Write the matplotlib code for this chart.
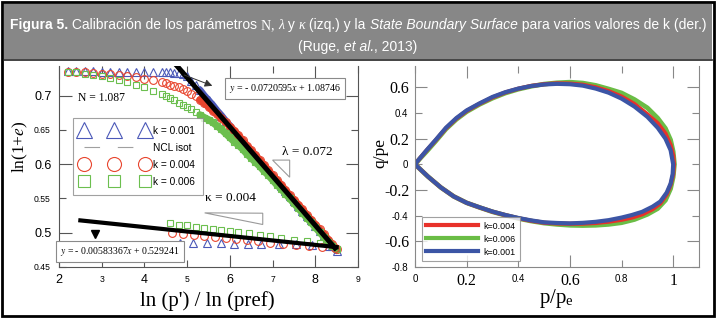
import numpy as np
import matplotlib
matplotlib.use('Agg')
import matplotlib.pyplot as plt
from matplotlib.lines import Line2D
from matplotlib.patches import Rectangle, Polygon
from matplotlib import font_manager

plt.rcParams['mathtext.fontset'] = 'stix'
SANS = 'Liberation Sans'
SERIF = 'Liberation Serif'

# %% data - left panel (compression curves)
x_load = [2.2, 2.4, 2.6, 2.8, 3.0, 3.2, 3.4, 3.6, 3.8, 4.0, 4.2, 4.4,
          4.5, 4.6, 4.7, 4.8, 4.9, 5.0, 5.1, 5.2, 5.3, 5.4, 5.5, 5.6, 5.7, 5.8, 5.9,
          6.0, 6.1, 6.2, 6.3, 6.4, 6.5, 6.6, 6.7, 6.8, 6.9, 7.0, 7.1, 7.2, 7.3, 7.4,
          7.5, 7.6, 7.7, 7.8, 7.9, 8.0, 8.1, 8.2, 8.3, 8.4, 8.5]
y_load_k001 = [0.736, 0.736, 0.736, 0.736, 0.735, 0.735, 0.735, 0.735, 0.735, 0.735, 0.734, 0.734,
               0.734, 0.734, 0.733, 0.733, 0.732, 0.729, 0.722, 0.715, 0.708, 0.700, 0.693, 0.686, 0.678, 0.671, 0.663,
               0.656, 0.648, 0.641, 0.634, 0.626, 0.619, 0.612, 0.604, 0.597, 0.590, 0.583, 0.575, 0.568, 0.561, 0.554,
               0.546, 0.539, 0.532, 0.525, 0.518, 0.510, 0.503, 0.496, 0.489, 0.481, 0.474]
y_load_k004 = [0.735, 0.735, 0.734, 0.733, 0.732, 0.731, 0.730, 0.729, 0.727, 0.725, 0.723, 0.720,
               0.718, 0.716, 0.714, 0.712, 0.710, 0.707, 0.703, 0.699, 0.694, 0.689, 0.684, 0.678, 0.673, 0.667, 0.661,
               0.655, 0.649, 0.642, 0.635, 0.627, 0.620, 0.613, 0.606, 0.599, 0.591, 0.584, 0.577, 0.570, 0.562, 0.555,
               0.548, 0.541, 0.534, 0.526, 0.519, 0.512, 0.505, 0.498, 0.490, 0.483, 0.476]
y_load_k006 = [0.735, 0.734, 0.732, 0.730, 0.728, 0.726, 0.723, 0.720, 0.716, 0.712, 0.707, 0.702,
               0.699, 0.696, 0.693, 0.690, 0.687, 0.684, 0.680, 0.676, 0.672, 0.668, 0.665, 0.661, 0.656, 0.651, 0.645,
               0.639, 0.633, 0.628, 0.622, 0.615, 0.609, 0.603, 0.597, 0.590, 0.584, 0.577, 0.570, 0.564, 0.557, 0.550,
               0.543, 0.536, 0.529, 0.522, 0.515, 0.508, 0.501, 0.494, 0.487, 0.481, 0.476]

x_unl_k001 = [4.83, 5.13, 5.46, 5.79, 6.09, 6.42, 6.74, 7.16, 7.56, 7.93, 8.33]
y_unl_k001 = [0.485, 0.485, 0.485, 0.485, 0.484, 0.484, 0.484, 0.483, 0.483, 0.482, 0.481]
x_unl_k004 = [4.65, 4.9, 5.15, 5.4, 5.65, 5.9, 6.15, 6.4, 6.65, 6.95, 7.25, 7.55, 7.85, 8.15, 8.45]
y_unl_k004 = [0.500, 0.4985, 0.497, 0.4955, 0.494, 0.4925, 0.491, 0.489, 0.4875, 0.4855, 0.4835,
              0.482, 0.480, 0.4785, 0.477]
x_unl_k006 = [4.6, 4.8, 5.0, 5.2, 5.4, 5.6, 5.8, 6.0, 6.2, 6.45, 6.7, 6.95, 7.2, 7.5, 7.8, 8.1, 8.4]
y_unl_k006 = [0.514, 0.512, 0.511, 0.509, 0.507, 0.506, 0.504, 0.502, 0.501, 0.499, 0.497, 0.495,
              0.492, 0.490, 0.488, 0.485, 0.481]

ncl_x = [4.65, 8.5]
ncl_y = [0.7515, 0.4749]
kap_x = [2.5, 8.5]
kap_y = [0.518, 0.479]

# %% data - right panel (state boundary surface)
p_k001 = [0, 0.02, 0.045, 0.08, 0.12, 0.16, 0.2, 0.25, 0.3, 0.35, 0.4, 0.45, 0.5, 0.55, 0.6, 0.65,
          0.7, 0.75, 0.8, 0.85, 0.9, 0.94, 0.97, 0.99, 1.0,
          0.998, 0.99, 0.975, 0.95, 0.92, 0.88, 0.84, 0.8, 0.75, 0.7, 0.65, 0.6, 0.55, 0.5,
          0.45, 0.4, 0.35, 0.3, 0.25, 0.2, 0.15, 0.1, 0.05, 0]
q_k001 = [0, 0.05, 0.11, 0.19, 0.285, 0.36, 0.42, 0.475, 0.525, 0.562, 0.59, 0.61, 0.622, 0.627, 0.624, 0.613,
          0.59, 0.558, 0.512, 0.45, 0.37, 0.285, 0.2, 0.11, 0.0,
          -0.075, -0.15, -0.22, -0.29, -0.33, -0.37, -0.395, -0.415, -0.435, -0.448, -0.456, -0.46, -0.457, -0.452,
          -0.437, -0.418, -0.395, -0.368, -0.335, -0.30, -0.25, -0.18, -0.095, 0]
p_k004 = [0, 0.02, 0.045, 0.08, 0.12, 0.16, 0.2, 0.25, 0.3, 0.35, 0.4, 0.45, 0.5, 0.55, 0.6, 0.65,
          0.7, 0.75, 0.8, 0.85, 0.9, 0.94, 0.97, 0.99, 1.0, 1.003,
          1.0, 0.99, 0.975, 0.95, 0.92, 0.88, 0.84, 0.8, 0.75, 0.7, 0.65, 0.6, 0.55, 0.5,
          0.45, 0.4, 0.35, 0.3, 0.25, 0.2, 0.15, 0.1, 0.05, 0]
q_k004 = [0, 0.049, 0.108, 0.187, 0.281, 0.356, 0.416, 0.472, 0.521, 0.56, 0.589, 0.611, 0.624, 0.631, 0.629, 0.62,
          0.60, 0.57, 0.528, 0.47, 0.39, 0.32, 0.24, 0.15, 0.07, 0.0,
          -0.08, -0.16, -0.235, -0.305, -0.35, -0.39, -0.415, -0.432, -0.447, -0.457, -0.462, -0.463, -0.461, -0.455,
          -0.44, -0.42, -0.396, -0.369, -0.336, -0.30, -0.25, -0.18, -0.095, 0]
p_k006 = [0, 0.02, 0.045, 0.08, 0.12, 0.16, 0.2, 0.25, 0.3, 0.35, 0.4, 0.45, 0.5, 0.55, 0.6, 0.65,
          0.7, 0.75, 0.8, 0.85, 0.9, 0.94, 0.97, 0.99, 1.0, 1.005,
          1.0, 0.99, 0.97, 0.94, 0.9, 0.85, 0.8, 0.75, 0.7, 0.65, 0.6, 0.55, 0.5,
          0.45, 0.4, 0.35, 0.3, 0.25, 0.2, 0.15, 0.1, 0.05, 0]
q_k006 = [0, 0.046, 0.1, 0.18, 0.275, 0.35, 0.41, 0.467, 0.515, 0.555, 0.585, 0.608, 0.625, 0.635, 0.64, 0.633,
          0.615, 0.587, 0.556, 0.505, 0.44, 0.36, 0.28, 0.19, 0.10, 0.0,
          -0.10, -0.19, -0.28, -0.345, -0.39, -0.43, -0.455, -0.468, -0.475, -0.477, -0.475, -0.468, -0.458,
          -0.442, -0.422, -0.397, -0.37, -0.336, -0.30, -0.25, -0.18, -0.095, 0]

blue_m, red_m, green_m = '#4b58b8', '#e8452e', '#6cbf4f'
red_l, green_l, blue_l = '#e8312a', '#6abd45', '#3c55a5'

# %% figure
W, H = 720, 319
fig = plt.figure(figsize=(W / 100, H / 100), dpi=100)

# frame and title band
fig.add_artist(Rectangle((2 / W, 1 - 316 / H), 712 / W, 314 / H, transform=fig.transFigure,
                         fill=False, ec='black', lw=2))
fig.add_artist(Rectangle((4 / W, 1 - 59 / H), 708 / W, 55 / H, transform=fig.transFigure,
                         fc='#878787', ec='none'))
fig.add_artist(Line2D([4 / W, 712 / W], [1 - 60 / H] * 2, transform=fig.transFigure, color='#222', lw=1.2))


def has_font(name):
    try:
        font_manager.findfont(font_manager.FontProperties(family=name), fallback_to_default=False)
        return True
    except Exception:
        return False


tfont = 'Liberation Sans Narrow' if has_font('Liberation Sans Narrow') else SANS
renderer = fig.canvas.get_renderer()


def segment_line(parts, ypix, size, target=None):
    objs = []
    for s, kw in parts:
        kw = dict(kw)
        fam = kw.pop('family', tfont)
        objs.append(fig.text(0, 1 - ypix / H, s, color='white', fontsize=size, va='center',
                             family=fam, **kw))
    widths = [t.get_window_extent(renderer).width for t in objs]
    if target is not None:
        k = target / sum(widths)
        for t in objs:
            t.set_fontsize(size * k)
        widths = [t.get_window_extent(renderer).width for t in objs]
    x = 358 - sum(widths) / 2
    for t, w in zip(objs, widths):
        t.set_x(x / W)
        x += w
    return objs[0].get_fontsize()


line1 = [("Figura 5.", dict(weight='bold')),
         (" Calibración de los parámetros ", {}),
         ("N, ", dict(family=SERIF)),
         ("λ", dict(family=SERIF, style='italic')),
         (" y ", {}),
         ("κ", dict(family=SERIF, style='italic')),
         (" (izq.) y la ", {}),
         ("State Boundary Surface", dict(style='italic')),
         (" para varios valores de k (der.)", {})]
fs_title = segment_line(line1, 25.5, 10, target=695)
line2 = [("(Ruge, ", {}), ("et al.", dict(style='italic')), (", 2013)", {})]
segment_line(line2, 47, fs_title)

# %% left panel
ax1 = fig.add_axes([59 / W, 1 - 267 / H, 299 / W, 201 / H])
ax1.set_xlim(2, 9)
ax1.set_ylim(0.45, 0.7433)

ms_kw = dict(ls='none', mfc='none', mew=0.8)
MS_T, MS_C, MS_S = 6.2, 5.6, 5.0
xl = np.array(x_load)
band = xl >= 5.3
for ys, col, mk, ms in [(y_load_k001, blue_m, '^', MS_T), (y_load_k004, red_m, 'o', MS_C),
                        (y_load_k006, green_m, 's', MS_S)]:
    ys = np.array(ys)
    ax1.plot(xl[band], ys[band], color=col, lw=5.2, solid_capstyle='round', zorder=2)
    ax1.plot(xl, ys, marker=mk, mec=col, ms=ms, zorder=2, **ms_kw)
ax1.plot(x_unl_k001, y_unl_k001, marker='^', mec=blue_m, ms=MS_T, **ms_kw)
ax1.plot(x_unl_k004, y_unl_k004, marker='o', mec=red_m, ms=MS_C, **ms_kw)
ax1.plot(x_unl_k006, y_unl_k006, marker='s', mec=green_m, ms=MS_S, **ms_kw)
ax1.plot(ncl_x, ncl_y, color='black', lw=3.6, zorder=4, solid_capstyle='butt')
ax1.plot(kap_x, kap_y, color='black', lw=3, zorder=4)

# slope triangles
ax1.add_patch(Polygon([[7.0, 0.606], [7.4, 0.606], [7.4, 0.581]], closed=True, fill=False,
                      ec='#9a9a9a', lw=0.8))
ax1.add_patch(Polygon([[5.41, 0.529], [6.77, 0.5285], [6.77, 0.512]], closed=True, fill=False,
                      ec='#9a9a9a', lw=0.8))
ax1.text(2.44, 0.6966, 'N = 1.087', family=SERIF, fontsize=8.4, va='center')
ax1.text(7.23, 0.6178, 'λ = 0.072', family=SERIF, fontsize=9.5, va='center')
ax1.text(5.41, 0.5505, 'κ = 0.004', family=SERIF, fontsize=9.5, va='center')

box = dict(boxstyle='square,pad=0.4', fc='white', ec='#8a8a8a', lw=0.8)
ax1.text(7.28, 0.7105, r'$y$ = - 0.0720595$x$ + 1.08746', family=SERIF, fontsize=7.2,
         ha='center', va='center', bbox=box, zorder=5)
ax1.text(3.43, 0.4723, r'$y$ = - 0.00583367$x$ + 0.529241', family=SERIF, fontsize=7.0,
         ha='center', va='center', bbox=box, zorder=5)
ax1.annotate('', xy=(5.65, 0.713), xytext=(4.87, 0.7316),
             arrowprops=dict(arrowstyle='-|>', color='#333', lw=0.7, mutation_scale=11), zorder=5)
ax1.plot([2.84], [0.4985], marker='v', color='black', ms=6, ls='none')

handles = [Line2D([], [], marker='^', mec=blue_m, ms=MS_T, **ms_kw),
           Line2D([], [], color='#a0a0a0', lw=0.8, ls=(0, (14, 16))),
           Line2D([], [], marker='o', mec=red_m, ms=MS_C, **ms_kw),
           Line2D([], [], marker='s', mec=green_m, ms=MS_S, **ms_kw)]
leg = ax1.legend(handles, ['k = 0.001', 'NCL isot', 'k = 0.004', 'k = 0.006'], numpoints=3,
                 markerscale=1.8, loc='upper left', bbox_to_anchor=(0.047, 0.741),
                 prop=dict(family=SANS, size=7.3), fancybox=False, edgecolor='#8a8a8a',
                 handlelength=6.6, handletextpad=0.55, labelspacing=0.7, borderpad=0.75,
                 borderaxespad=0)
leg.get_frame().set_linewidth(0.8)
leg.set_zorder(6)

ax1.set_xticks([2, 4, 6, 8], ['2', '4', '6', '8'])
ax1.set_xticks([3, 5, 7, 9], ['3', '5', '7', '9'], minor=True)
ax1.set_yticks([0.5, 0.6, 0.7], ['0.5', '0.6', '0.7'])
ax1.set_yticks([0.45, 0.55, 0.65], ['0.45', '0.55', '0.65'], minor=True)
ax1.tick_params(which='both', direction='in', top=True, right=True, color='#555', width=0.8,
                labelfontfamily=SANS)
ax1.tick_params(which='major', length=9, labelsize=9, pad=5)
ax1.tick_params(which='minor', length=5, labelsize=6.2, pad=6)
for s in ['left', 'bottom', 'right']:
    ax1.spines[s].set_color('#555')
    ax1.spines[s].set_linewidth(0.8)
ax1.spines['top'].set_visible(False)

fig.text(207.5 / W, 1 - 301 / H, "ln (p') / ln (pref)", family=SERIF, fontsize=15,
         ha='center', va='center')
fig.text(20 / W, 1 - 147 / H, r'ln(1+$\mathit{e}$)', family=SERIF, fontsize=12.5,
         ha='center', va='center', rotation=90)

# %% right panel
ax2 = fig.add_axes([415 / W, 1 - 267 / H, 284 / W, 201 / H])
ax2.set_xlim(0, 1.1)
ax2.set_ylim(-0.8, 0.766)
ax2.plot(p_k006, q_k006, color=green_l, lw=3.4, solid_joinstyle='round', label='k=0.006')
ax2.plot(p_k004, q_k004, color=red_l, lw=3.0, solid_joinstyle='round', label='k=0.004')
ax2.plot(p_k001, q_k001, color=blue_l, lw=3.0, solid_joinstyle='round', label='k=0.001')

lh = [Line2D([], [], color=red_l, lw=3), Line2D([], [], color=green_l, lw=3),
      Line2D([], [], color=blue_l, lw=3)]
leg2 = ax2.legend(lh, ['k=0.004', 'k=0.006', 'k=0.001'], loc='lower left',
                  bbox_to_anchor=(0.0236, 0.03), prop=dict(family=SANS, size=6.4),
                  fancybox=False, edgecolor='#8a8a8a', handlelength=5.8, handletextpad=0.6,
                  labelspacing=0.45, borderpad=0.5, borderaxespad=0)
leg2.get_frame().set_linewidth(0.8)

ax2.set_xticks([0.2, 0.6, 1.0], ['0.2', '0.6', '1'])
ax2.set_xticks([0, 0.4, 0.8], ['0', '0.4', '0.8'], minor=True)
ax2.set_yticks([-0.6, -0.2, 0.2, 0.6], ['-0.6', '-0.2', '0.2', '0.6'])
ax2.set_yticks([-0.8, -0.4, 0, 0.4], ['-0.8', '-0.4', '0', '0.4'], minor=True)
ax2.tick_params(which='both', direction='in', top=True, right=True, color='#888', width=0.8)
ax2.tick_params(which='major', length=8.5, labelsize=11.5, pad=4, labelfontfamily=SERIF)
ax2.tick_params(which='minor', length=5, labelsize=7, pad=5, labelfontfamily=SANS)
for s in ['left', 'bottom', 'right']:
    ax2.spines[s].set_color('#888')
    ax2.spines[s].set_linewidth(0.8)
ax2.spines['top'].set_visible(False)

fig.text(557 / W, 1 - 299 / H, r'p/p$_\mathregular{e}$', family=SERIF, fontsize=15,
         ha='center', va='center')
fig.text(380 / W, 1 - 153 / H, 'q/pe', family=SERIF, fontsize=12.5, ha='center', va='center',
         rotation=90)

plt.savefig('out.png', dpi=100)
